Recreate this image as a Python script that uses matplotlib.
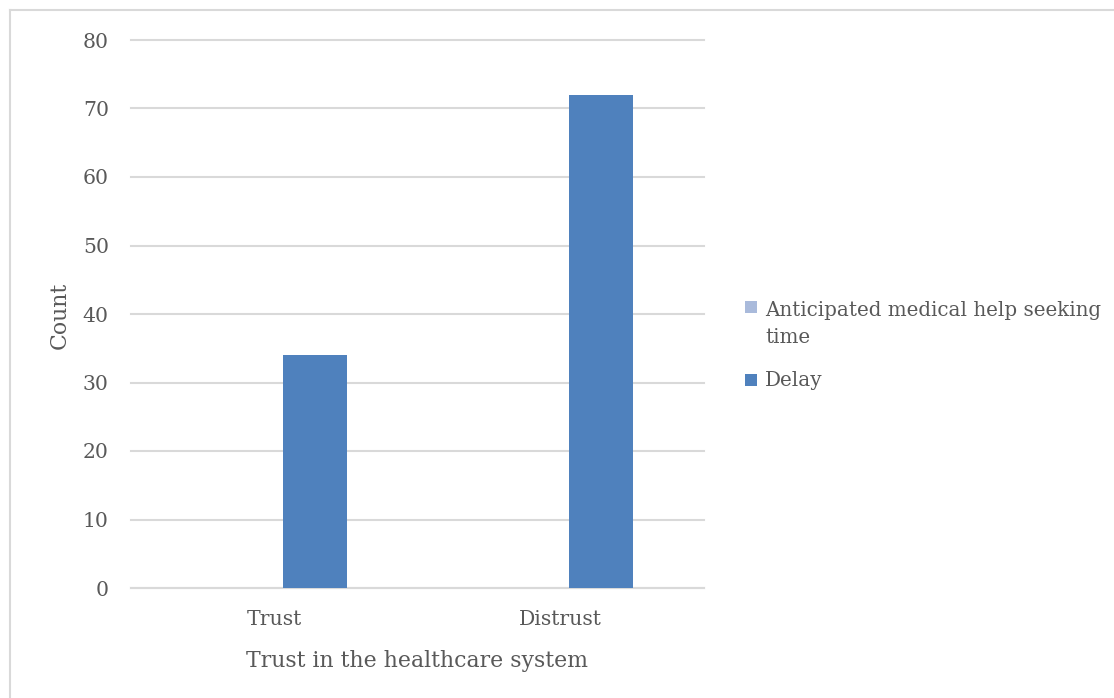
import matplotlib
matplotlib.use("Agg")
import matplotlib.pyplot as plt
from matplotlib.patches import Rectangle
import numpy as np

categories = ["Trust", "Distrust"]
series_names = ["Anticipated medical help seeking time", "Delay"]
legend_lines = [["Anticipated medical help seeking", "time"], ["Delay"]]
anticipated = [0, 0]
delay = [34, 72]
yticks = [0, 10, 20, 30, 40, 50, 60, 70, 80]

plt.rcParams["font.family"] = ["DejaVu Serif"]
text_color = "#595959"
grid_color = "#D9D9D9"
colors = ["#A9BADB", "#4F81BD"]

W, H = 1114, 698
fig = plt.figure(figsize=(W / 100, H / 100), dpi=100)
ax = fig.add_axes([131 / W, 1 - 588 / H, (704 - 131) / W, (588 - 40) / H])

x = np.arange(len(categories))
bw = 0.223
gap = 0.03
ax.bar(x - gap - bw / 2, anticipated, bw, color=colors[0], zorder=3)
ax.bar(x + gap + bw / 2, delay, bw, color=colors[1], zorder=3)

ax.set_xlim(-0.5, len(categories) - 0.5)
ax.set_ylim(0, 80)
ax.set_yticks(yticks)
ax.yaxis.grid(True, color=grid_color, linewidth=1.5, zorder=0)
for gl in ax.get_ygridlines():
    gl.set_clip_on(False)
ax.set_axisbelow(True)
for side in ["top", "right", "left"]:
    ax.spines[side].set_visible(False)
ax.spines["bottom"].set_color(grid_color)
ax.spines["bottom"].set_linewidth(1.5)
ax.tick_params(axis="both", length=0, labelsize=14.7, colors=text_color)
ax.tick_params(axis="y", pad=16)
ax.tick_params(axis="x", pad=16)
ax.set_xticks(x)
ax.set_xticklabels(categories)

# axis titles
fig.text(60 / W, 1 - 315 / H, "Count", rotation=90, ha="center", va="center",
         fontsize=15.8, color=text_color)
fig.text(417 / W, 1 - 667 / H, "Trust in the healthcare system", ha="center",
         va="baseline", fontsize=15.8, color=text_color)

# legend: square swatch aligned with the first line of each entry
swatch_tops = [301, 374]
baselines = [316, 386]
line_step = 27
for color, lines, top, base in zip(colors, legend_lines, swatch_tops, baselines):
    fig.add_artist(Rectangle((745 / W, 1 - (top + 12) / H), 12 / W, 12 / H,
                             transform=fig.transFigure, facecolor=color,
                             edgecolor="none"))
    for i, line in enumerate(lines):
        fig.text(765 / W, 1 - (base + i * line_step) / H, line, ha="left",
                 va="baseline", fontsize=14.3, color=text_color)

# chart frame
fig.add_artist(plt.Line2D([10 / W, 10 / W], [0, 1 - 10 / H], transform=fig.transFigure,
                          color="#D9D9D9", linewidth=1.5))
fig.add_artist(plt.Line2D([10 / W, 1], [1 - 10 / H, 1 - 10 / H], transform=fig.transFigure,
                          color="#D9D9D9", linewidth=1.5))

fig.savefig("out.png", dpi=100)
